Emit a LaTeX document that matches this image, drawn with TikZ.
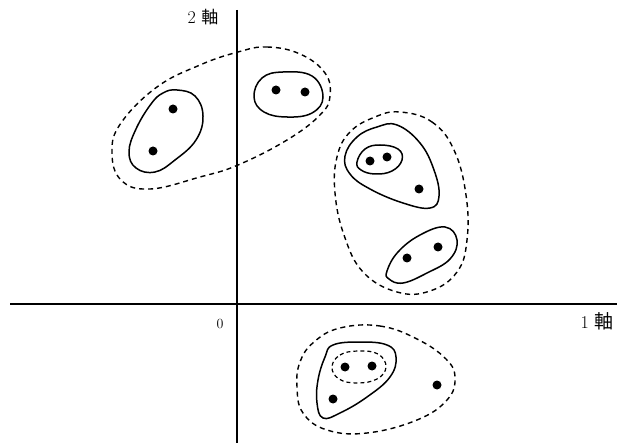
\documentclass[tikz,border=0pt]{standalone}
\usepackage{fontspec}
\newfontfamily\cjk{Noto Sans CJK JP}
\begin{document}
\begin{tikzpicture}[x=1pt,y=-1pt,
  axis/.style={line width=1.8pt},
  loop/.style={line width=1.5pt},
  dloop/.style={line width=1.4pt,dash pattern=on 5pt off 4pt},
  dot/.style={circle,fill=black,inner sep=0pt,minimum size=9pt},
  lab/.style={font=\fontsize{18}{18}\selectfont,inner sep=0pt}]
\useasboundingbox (0,0) rectangle (623,443);
% axes
\coordinate (xa) at (10,304);
\coordinate (xb) at (617,304);
\coordinate (ya) at (237,10);
\coordinate (yb) at (237,443);
\draw[axis] (xa) -- (xb);
\draw[axis] (ya) -- (yb);
\node[lab] (ylab) at (203,17) {2 {\cjk\fontsize{17}{17}\selectfont 軸}};
\node[lab] (xlab) at (597,321) {1 {\cjk\fontsize{19}{19}\selectfont 軸}};
\node[lab,font=\fontsize{14}{14}\selectfont] (orig) at (220,324) {0};
% top-left group
\draw[dloop] plot[smooth cycle,tension=0.7] coordinates {(238,52) (267,47) (300,54) (325,73) (330,96) (320,115) (287,140) (238,165) (200,177) (150,189) (121,180) (112,152) (121,123) (157,87) (200,65)};
\draw[loop] plot[smooth cycle,tension=0.7] coordinates {(177,90) (195,96) (203,116) (196,140) (175,160) (155,172) (136,168) (129,152) (136,129) (151,104) (163,93)};
\node[dot] (d1) at (173,109) {};
\node[dot] (d2) at (153,151) {};
\draw[loop] plot[smooth cycle,tension=0.7] coordinates {(254,97) (262,78) (283,72) (312,76) (323,97) (312,113) (287,117) (264,112)};
\node[dot] (d3) at (276,90) {};
\node[dot] (d4) at (305,92) {};
% right group
\draw[dloop] plot[smooth cycle,tension=0.7] coordinates {(400,112) (432,122) (454,150) (466,195) (467,240) (457,272) (430,291) (397,292) (363,272) (344,235) (335,193) (337,157) (350,132) (375,117)};
\draw[loop] plot[smooth cycle,tension=0.7] coordinates {(397,125) (420,143) (434,170) (439,196) (430,208) (403,203) (370,189) (350,174) (345,156) (357,137) (377,127)};
\draw[loop] plot[smooth cycle,tension=0.7] coordinates {(357,162) (365,149) (380,145) (398,149) (402,160) (392,171) (375,174) (361,170)};
\node[dot] (d5) at (370,161) {};
\node[dot] (d6) at (387,157) {};
\node[dot] (d7) at (419,189) {};
\draw[loop] plot[smooth cycle,tension=0.7] coordinates {(387,271) (398,252) (420,235) (445,227) (457,240) (450,259) (427,273) (403,283) (389,279)};
\node[dot] (d8) at (407,258) {};
\node[dot] (d9) at (438,247) {};
% bottom group
\draw[dloop] plot[smooth cycle,tension=0.7] coordinates {(340,328) (380,326) (417,339) (446,359) (455,378) (447,400) (417,420) (367,433) (327,430) (303,413) (297,387) (300,362) (314,342)};
\draw[loop] plot[smooth cycle,tension=0.7] coordinates {(333,345) (360,342) (387,345) (396,357) (390,377) (367,397) (340,413) (323,418) (317,403) (318,380) (325,357)};
\draw[line width=1.2pt,dash pattern=on 4pt off 3pt] plot[smooth cycle,tension=0.7] coordinates {(332,367) (340,355) (358,351) (378,354) (386,367) (377,379) (357,383) (339,379)};
\node[dot] (d10) at (345,367) {};
\node[dot] (d11) at (372,366) {};
\node[dot] (d12) at (333,399) {};
\node[dot] (d13) at (437,385) {};
\end{tikzpicture}
\end{document}
